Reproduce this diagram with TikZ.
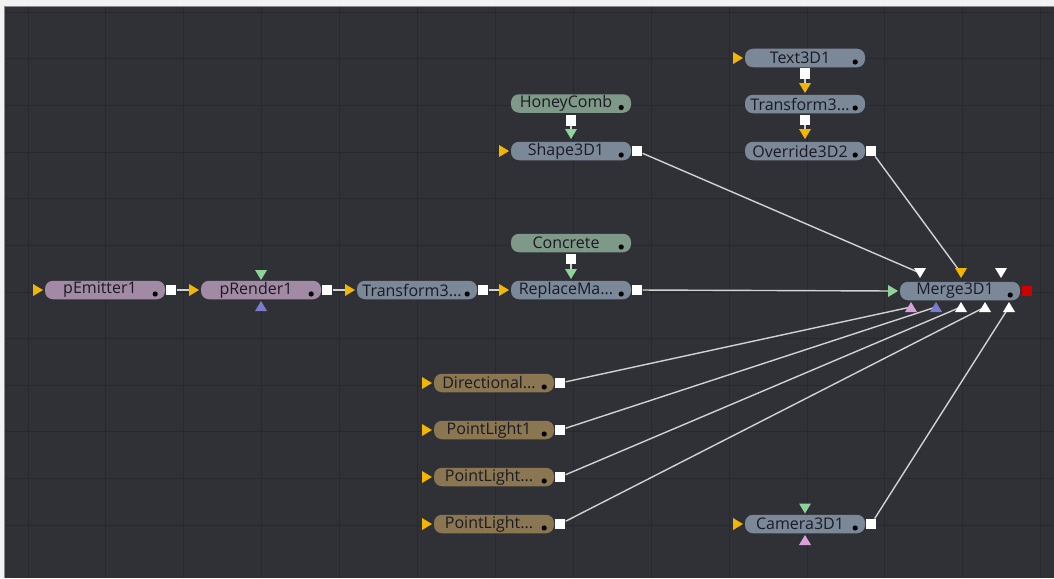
\documentclass[tikz,border=0pt]{standalone}
\usepackage{fontspec}
\setmainfont{Open Sans}
\definecolor{bgc}{HTML}{303137}
\definecolor{gridc}{HTML}{28292D}
\definecolor{outc}{HTML}{F2F2F2}
\definecolor{edgec}{HTML}{8A8A8A}
\definecolor{purp}{HTML}{A28AA4}
\definecolor{bgray}{HTML}{7A8898}
\definecolor{ggray}{HTML}{7E9987}
\definecolor{tan}{HTML}{8B7652}
\definecolor{txt}{HTML}{1A1A24}
\definecolor{wirec}{HTML}{D2D2D2}
\definecolor{orng}{HTML}{F2B600}
\definecolor{lgrn}{HTML}{8ED49A}
\definecolor{bltri}{HTML}{7A7CCC}
\definecolor{pinkt}{HTML}{D7A0D8}
\definecolor{redc}{HTML}{D00000}
\tikzset{
  tool/.style={rounded corners=8pt, minimum width=120pt, minimum height=18.5pt, inner sep=0pt,
    text=txt, font=\fontsize{16}{17}\selectfont},
  sqport/.style={fill=white, draw=none, minimum size=10.5pt, inner sep=0pt},
  redport/.style={fill=redc, draw=none, minimum size=10.5pt, inner sep=0pt},
  wire/.style={draw=wirec, line width=1.4pt},
}
% triangles: #1 x, #2 y, #3 colour
\newcommand\triR[3]{\fill[#3] (#1-5,#2-6) -- (#1+5,#2) -- (#1-5,#2+6) -- cycle;}
\newcommand\triD[3]{\fill[#3] (#1-6,#2-5) -- (#1+6,#2-5) -- (#1,#2+5) -- cycle;}
\newcommand\triU[3]{\fill[#3] (#1-6,#2+5) -- (#1+6,#2+5) -- (#1,#2-5) -- cycle;}
% tool box: name, x, y, colour, text
\newcommand\tool[5]{%
  \node[tool, fill=#4] (#1) at (#2,#3) {\hspace*{-10pt}#5};
  \fill[black] (#1.east) ++(-10,4) circle (2.6);
}
\begin{document}
\begin{tikzpicture}[x=1pt,y=-1pt]
\useasboundingbox (0,0) rectangle (1054,578);
\fill[outc] (0,0) rectangle (1054,578);
\fill[bgc] (4,6) rectangle (1054,578);
\draw[edgec, line width=1.2pt] (4.5,578) -- (4.5,6.5) -- (1054,6.5);
% grid
\foreach \k in {0,...,13} {\draw[gridc, line width=1pt] (28+77.9*\k,7) -- (28+77.9*\k,578);}
\foreach \k in {0,...,11} {\draw[gridc, line width=1pt] (5,12.4+46.6*\k) -- (1054,12.4+46.6*\k);}

% ---------- nodes ----------
\tool{pE}{105}{290}{purp}{pEmitter1}
\tool{pR}{261}{290}{purp}{pRender1}
\tool{trA}{417}{290}{bgray}{Transform3...}
\tool{rep}{571}{290}{bgray}{ReplaceMa...}
\tool{mrg}{960}{291}{bgray}{Merge3D1}
\tool{hc}{571}{103.5}{ggray}{HoneyComb}
\tool{sh}{571}{151}{bgray}{Shape3D1}
\tool{conc}{571}{243}{ggray}{Concrete}
\tool{tx}{805}{58}{bgray}{Text3D1}
\tool{trB}{805}{104}{bgray}{Transform3...}
\tool{ov}{805}{151}{bgray}{Override3D2}
\tool{dir}{494}{383}{tan}{Directional...}
\tool{plA}{494}{430}{tan}{PointLight1}
\tool{plB}{494}{477}{tan}{PointLight...}
\tool{plC}{494}{524}{tan}{PointLight...}
\tool{cam}{805}{524}{bgray}{Camera3D1}

% ---------- output squares ----------
\foreach \n in {pE,pR,trA,rep,sh,ov,dir,plA,plB,plC,cam}
  {\node[sqport] (\n o) at ([xshift=6pt]\n.east) {};}
\node[redport] (mrgo) at ([xshift=7pt]mrg.east) {};
\node[sqport] (hco) at (571,120.5) {};
\node[sqport] (conco) at (571,259) {};
\node[sqport] (txo) at (805,73.5) {};
\node[sqport] (trBo) at (805,120) {};

% ---------- input coordinates ----------
\foreach \n in {pE,pR,trA,rep,sh,tx,dir,plA,plB,plC,cam}
  {\coordinate (\n i) at ([xshift=-7pt]\n.west);}
\coordinate (mrgL) at (893,291);
\coordinate (mrgT1) at (920,273);
\coordinate (mrgT2) at (961,273);
\coordinate (mrgT3) at (1001,273);
\coordinate (mrgB1) at (911,307);
\coordinate (mrgB2) at (936,307);
\coordinate (mrgB3) at (961,307);
\coordinate (mrgB4) at (985,307);
\coordinate (mrgB5) at (1009,307);
\coordinate (shT) at (571,134);
\coordinate (repT) at (571,274);
\coordinate (trBT) at (805,88);
\coordinate (ovT) at (805,134);
\coordinate (pRT) at (261,275);
\coordinate (pRB) at (261,306);
\coordinate (camT) at (805,508.5);
\coordinate (camB) at (805,540);

% ---------- wires ----------
\draw[wire] (pEo) -- (pRi);
\draw[wire] (pRo) -- (trAi);
\draw[wire] (trAo) -- (repi);
\draw[wire] (repo) -- (mrgL);
\draw[wire] (sho) -- (mrgT1);
\draw[wire] (ovo) -- (mrgT2);
\draw[wire] (diro) -- (mrgB1);
\draw[wire] (plAo) -- (mrgB2);
\draw[wire] (plBo) -- (mrgB3);
\draw[wire] (plCo) -- (mrgB4);
\draw[wire] (camo) -- (mrgB5);
\draw[wire] (hco) -- (shT);
\draw[wire] (conco) -- (repT);
\draw[wire] (txo) -- (trBT);
\draw[wire] (trBo) -- (ovT);
% redraw squares above wires
\foreach \n in {pE,pR,trA,rep,sh,ov,dir,plA,plB,plC,cam,hc,conc,tx,trB}
  {\fill[white] ([shift={(-5.25,-5.25)}]\n o.center) rectangle ([shift={(5.25,5.25)}]\n o.center);}

% ---------- triangles ----------
\triR{38}{290}{orng}
\triR{194}{290}{orng}
\triR{350}{290}{orng}
\triR{504}{290}{orng}
\triR{504}{151}{orng}
\triR{738}{58}{orng}
\triR{427}{383}{orng}
\triR{427}{430}{orng}
\triR{427}{477}{orng}
\triR{427}{524}{orng}
\triR{738}{524}{orng}
\triR{893}{291}{lgrn}
\triD{571}{134}{lgrn}
\triD{571}{274}{lgrn}
\triD{805}{88}{orng}
\triD{805}{134}{orng}
\triD{261}{275}{lgrn}
\triU{261}{306}{bltri}
\triD{805}{508.5}{lgrn}
\triU{805}{540}{pinkt}
\triD{920}{273}{white}
\triD{961}{273}{orng}
\triD{1001}{273}{white}
\triU{911}{307}{pinkt}
\triU{936}{307}{bltri}
\triU{961}{307}{white}
\triU{985}{307}{white}
\triU{1009}{307}{white}
\end{tikzpicture}
\end{document}
